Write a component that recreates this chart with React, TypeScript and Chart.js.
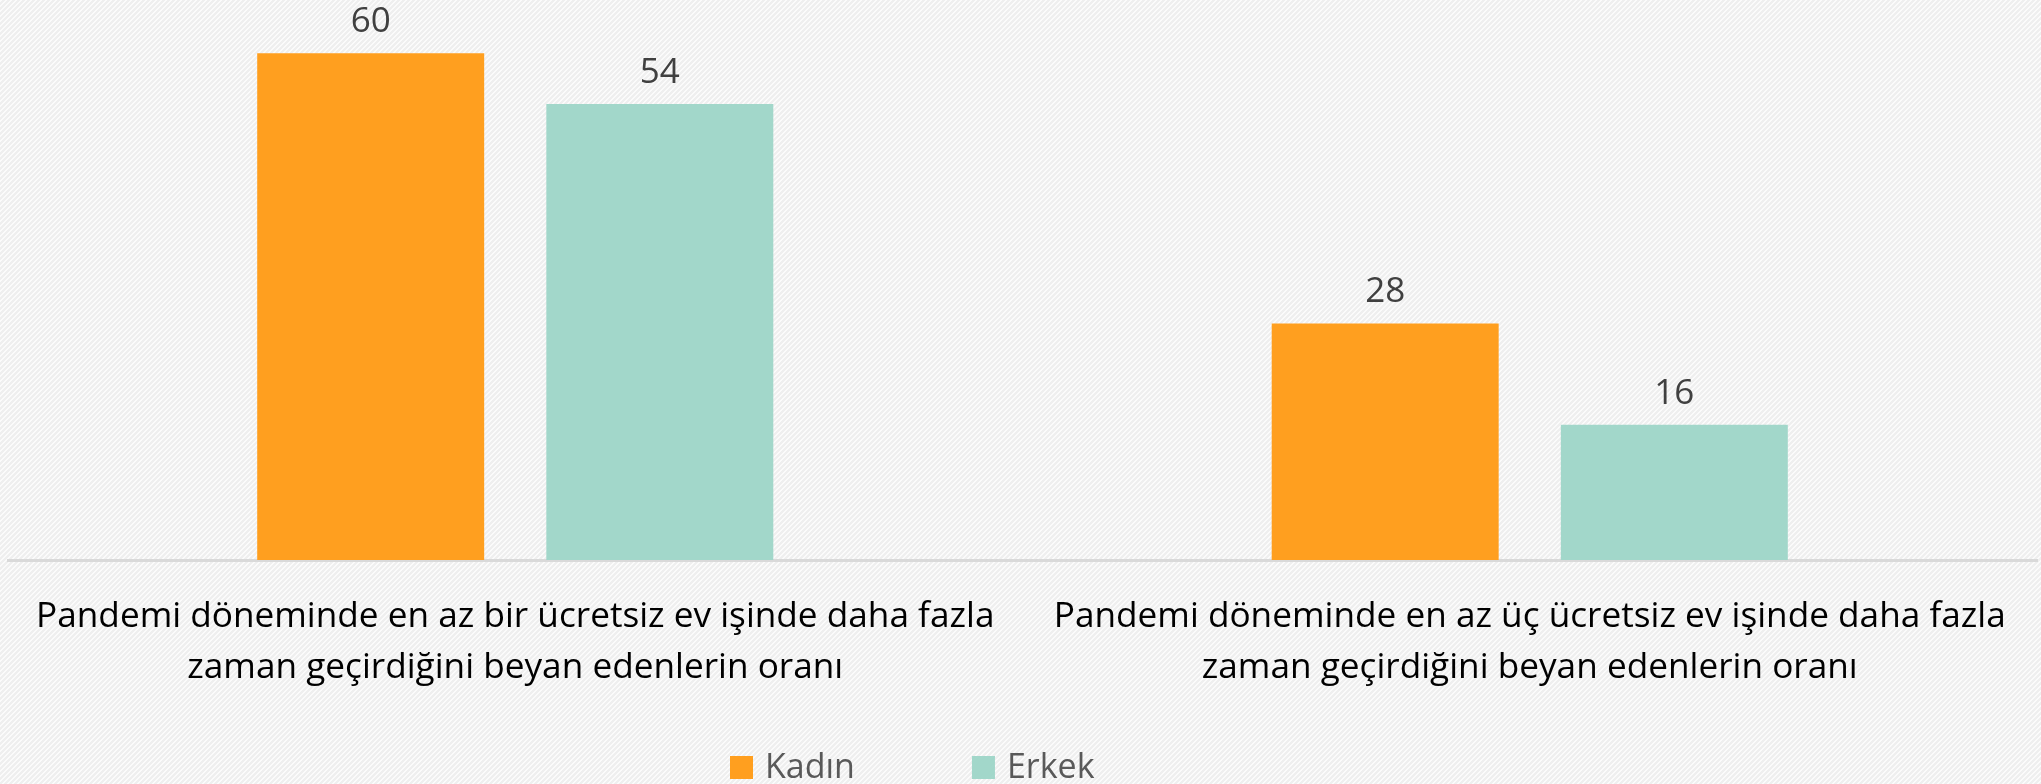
import React, { useEffect, useRef } from 'react';
import { Chart, registerables } from 'chart.js';

Chart.register(...registerables);

const categories: string[][] = [
  ['Pandemi döneminde en az bir ücretsiz ev işinde daha fazla', 'zaman geçirdiğini beyan edenlerin oranı'],
  ['Pandemi döneminde en az üç ücretsiz ev işinde daha fazla', 'zaman geçirdiğini beyan edenlerin oranı'],
];
const seriesNames = ['Kadın', 'Erkek'];
const kadinValues = [60, 28];
const erkekValues = [54, 16];
const seriesColors = ['#FF9F1F', '#A2D7CA'];

const FONT = "'Open Sans', 'Noto Sans', sans-serif";
const W = 2041;
const H = 784;

function makePattern(ctx: CanvasRenderingContext2D) {
  const n = 5;
  const c = document.createElement('canvas');
  c.width = n;
  c.height = n;
  const p = c.getContext('2d')!;
  p.fillStyle = '#efefef';
  p.fillRect(0, 0, n, n);
  p.fillStyle = '#fbfbfb';
  for (let x = 0; x < n; x++) {
    for (let y = 0; y < n; y++) {
      if ((x + y) % n < 2) p.fillRect(x, y, 1, 1);
    }
  }
  return ctx.createPattern(c, 'repeat');
}

const backgroundPlugin = {
  id: 'hatchBackground',
  beforeDraw(chart: any) {
    const ctx = chart.ctx as CanvasRenderingContext2D;
    ctx.save();
    const pat = makePattern(ctx);
    ctx.fillStyle = pat || '#f4f4f4';
    ctx.fillRect(0, 0, chart.width, chart.height);
    ctx.restore();
  },
};

const valueLabelPlugin = {
  id: 'valueLabels',
  afterDatasetsDraw(chart: any) {
    const ctx = chart.ctx as CanvasRenderingContext2D;
    ctx.save();
    ctx.font = `35px ${FONT}`;
    ctx.fillStyle = '#404040';
    ctx.textAlign = 'center';
    ctx.textBaseline = 'alphabetic';
    chart.data.datasets.forEach((ds: any, di: number) => {
      const meta = chart.getDatasetMeta(di);
      meta.data.forEach((el: any, i: number) => {
        ctx.fillText(String(ds.data[i]), el.x, el.y - 21);
      });
    });
    ctx.restore();
  },
};

const legendPlugin = {
  id: 'bottomLegend',
  afterDraw(chart: any) {
    const ctx = chart.ctx as CanvasRenderingContext2D;
    ctx.save();
    ctx.font = `34px ${FONT}`;
    ctx.textBaseline = 'alphabetic';
    ctx.textAlign = 'left';
    let x = 730;
    const boxTop = 756;
    const box = 23;
    chart.data.datasets.forEach((ds: any) => {
      ctx.fillStyle = ds.backgroundColor;
      ctx.fillRect(x, boxTop, box, box);
      ctx.fillStyle = '#595959';
      const tx = x + box + 12;
      ctx.fillText(ds.label, tx, 778);
      x = tx + ctx.measureText(ds.label).width + 117;
    });
    ctx.restore();
  },
};

export default function App() {
  const ref = useRef<HTMLCanvasElement | null>(null);

  useEffect(() => {
    if (!ref.current) return;
    const chart = new Chart(ref.current, {
      type: 'bar',
      data: {
        labels: categories,
        datasets: [
          { label: seriesNames[0], data: kadinValues, backgroundColor: seriesColors[0], borderWidth: 0 },
          { label: seriesNames[1], data: erkekValues, backgroundColor: seriesColors[1], borderWidth: 0 },
        ],
      },
      options: {
        responsive: false,
        animation: false,
        devicePixelRatio: 1,
        layout: { padding: { left: 8, right: 4, top: 0, bottom: 0 } },
        datasets: {
          bar: { categoryPercentage: 0.57, barPercentage: 0.785 },
        },
        plugins: {
          legend: { display: false },
          tooltip: { enabled: false },
          title: { display: false },
        },
        scales: {
          x: {
            grid: { display: false, drawTicks: false },
            border: { display: true, color: '#d9d9d9', width: 3 },
            ticks: {
              color: '#000000',
              font: { family: FONT, size: 35.2, lineHeight: '51px' } as any,
              padding: 31,
              maxRotation: 0,
              minRotation: 0,
              autoSkip: false,
            },
            afterFit: (scale: any) => {
              scale.height = 224;
            },
          },
          y: {
            display: false,
            min: 0,
            max: 66.3,
          },
        },
      },
      plugins: [backgroundPlugin, valueLabelPlugin, legendPlugin],
    });
    return () => chart.destroy();
  }, []);

  return (
    <div style={{ position: 'fixed', left: 0, top: 0, width: W, height: H, overflow: 'hidden' }}>
      <canvas ref={ref} width={W} height={H} style={{ display: 'block', width: W, height: H }} />
    </div>
  );
}
